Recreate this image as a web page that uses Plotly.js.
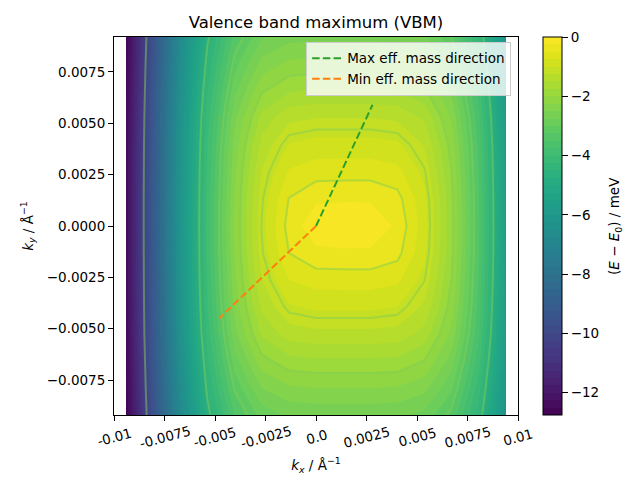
<!DOCTYPE html>
<html><head><meta charset="utf-8">
<script src="https://cdn.plot.ly/plotly-3.0.1.min.js"></script>
<style>body{margin:0;background:#fff;}</style>
</head><body><div id="chart" style="width:640px;height:480px;"></div>
<script>
// k-grid (1/Angstrom)
const kx = [-0.0094, -0.00806, -0.00671, -0.00537, -0.00403, -0.00269, -0.00134, 0, 0.00134, 0.00269, 0.00403, 0.00537, 0.00671, 0.00806, 0.0094];
const ky = [-0.0092, -0.007886, -0.006571, -0.005257, -0.003943, -0.002629, -0.001314, 0, 0.001314, 0.002629, 0.003943, 0.005257, 0.006571, 0.007886, 0.0092];
// E - E0 (meV), one row per ky value (bottom to top)
const energy = [
  [-12.74, -9.52, -6.73, -4.73, -3.49, -2.89, -2.71, -2.68, -2.68, -2.68, -2.70, -2.82, -3.29, -4.38, -6.19],
  [-12.65, -9.41, -6.57, -4.50, -3.17, -2.50, -2.29, -2.25, -2.25, -2.25, -2.27, -2.42, -2.95, -4.13, -6.02],
  [-12.58, -9.32, -6.43, -4.30, -2.87, -2.10, -1.84, -1.80, -1.80, -1.80, -1.82, -2.01, -2.62, -3.90, -5.86],
  [-12.52, -9.23, -6.31, -4.12, -2.59, -1.71, -1.38, -1.32, -1.32, -1.32, -1.35, -1.59, -2.32, -3.70, -5.73],
  [-12.49, -9.19, -6.24, -4.01, -2.42, -1.45, -1.03, -0.95, -0.95, -0.95, -1.00, -1.30, -2.13, -3.59, -5.66],
  [-12.47, -9.16, -6.20, -3.95, -2.32, -1.26, -0.75, -0.64, -0.63, -0.63, -0.70, -1.09, -2.01, -3.52, -5.62],
  [-12.45, -9.15, -6.18, -3.91, -2.25, -1.13, -0.50, -0.31, -0.30, -0.30, -0.42, -0.94, -1.93, -3.47, -5.59],
  [-12.45, -9.14, -6.17, -3.90, -2.23, -1.09, -0.40, -0.08,  0.00, -0.04, -0.30, -0.89, -1.91, -3.46, -5.58],
  [-12.45, -9.14, -6.18, -3.91, -2.25, -1.13, -0.49, -0.29, -0.28, -0.28, -0.41, -0.93, -1.93, -3.47, -5.59],
  [-12.46, -9.16, -6.20, -3.95, -2.31, -1.24, -0.72, -0.61, -0.60, -0.60, -0.67, -1.07, -2.00, -3.51, -5.61],
  [-12.48, -9.18, -6.24, -4.00, -2.40, -1.41, -0.98, -0.90, -0.90, -0.90, -0.95, -1.27, -2.11, -3.57, -5.65],
  [-12.51, -9.23, -6.30, -4.10, -2.56, -1.66, -1.31, -1.25, -1.25, -1.25, -1.29, -1.53, -2.28, -3.68, -5.72],
  [-12.57, -9.30, -6.41, -4.26, -2.82, -2.04, -1.77, -1.72, -1.72, -1.72, -1.75, -1.94, -2.57, -3.86, -5.84],
  [-12.63, -9.39, -6.53, -4.45, -3.10, -2.41, -2.19, -2.15, -2.15, -2.15, -2.17, -2.33, -2.88, -4.07, -5.98],
  [-12.71, -9.49, -6.68, -4.67, -3.40, -2.78, -2.59, -2.56, -2.56, -2.56, -2.58, -2.71, -3.19, -4.30, -6.14]
];
const lineLevels = [-0.5, -1.1, -2.0, -3.2, -4.6, -10.3];
const maxDirX = [0, 0.0028];
const maxDirY = [0, 0.0059];
const minDirX = [0, -0.0048];
const minDirY = [0, -0.0045];
const xTickVals = [-0.01, -0.0075, -0.005, -0.0025, 0, 0.0025, 0.005, 0.0075, 0.01];
const xTickText = ['-0.01', '-0.0075', '-0.005', '-0.0025', '0.0', '0.0025', '0.005', '0.0075', '0.01'];
const yTickVals = [-0.0075, -0.005, -0.0025, 0, 0.0025, 0.005, 0.0075];
const yTickText = ['\u22120.0075', '\u22120.0050', '\u22120.0025', '0.0000', '0.0025', '0.0050', '0.0075'];
const cbTickVals = [0, -2, -4, -6, -8, -10, -12];
const cbTickText = ['0', '\u22122', '\u22124', '\u22126', '\u22128', '\u221210', '\u221212'];

const FS = 13.5;
const traces = [];
traces.push({
  type: 'contour', x: kx, y: ky, z: energy,
  colorscale: 'Viridis', zmin: -12.75, zmax: 0,
  autocontour: false,
  contours: {start: -12.75, end: 0, size: 0.25, coloring: 'fill', showlines: false},
  line: {width: 0, smoothing: 0},
  hoverinfo: 'skip', showlegend: false,
  colorbar: {
    x: 1.0619, xref: 'paper', xanchor: 'left', xpad: 0,
    y: 0.5, yanchor: 'middle', ypad: 0, len: 1, lenmode: 'fraction',
    thickness: 19, outlinewidth: 1, outlinecolor: 'black',
    ticks: 'outside', ticklen: 6, tickwidth: 1, tickcolor: 'black',
    tickvals: cbTickVals, ticktext: cbTickText, tickfont: {size: FS}
  }
});
lineLevels.forEach(L => {
  traces.push({
    type: 'contour', x: kx, y: ky, z: energy, showscale: false,
    autocontour: false,
    contours: {start: L, end: L, size: 1, coloring: 'none', showlines: true},
    line: {color: 'rgba(125,205,85,0.5)', width: 2, smoothing: 0},
    hoverinfo: 'skip', showlegend: false
  });
});
traces.push({
  type: 'scatter', mode: 'lines', x: maxDirX, y: maxDirY,
  name: 'Max eff. mass direction',
  line: {color: '#2ca02c', width: 2, dash: '7.5px,3.2px'}
});
traces.push({
  type: 'scatter', mode: 'lines', x: minDirX, y: minDirY,
  name: 'Min eff. mass direction',
  line: {color: '#ff7f0e', width: 2, dash: '7.5px,3.2px'}
});

const axisCommon = {
  showgrid: false, zeroline: false, showline: true, linecolor: 'black', linewidth: 1,
  mirror: true, ticks: 'outside', ticklen: 5, tickwidth: 1, tickcolor: 'black',
  tickfont: {size: FS}
};
const annotations = xTickVals.map((v, i) => ({
  x: v, xref: 'x', y: -0.058, yref: 'paper', text: xTickText[i], showarrow: false,
  textangle: -15, xanchor: 'center', yanchor: 'middle', font: {size: FS}
}));
annotations.push({
  x: 1.24, xref: 'paper', y: 0.5, yref: 'paper', showarrow: false, textangle: -90,
  xanchor: 'center', yanchor: 'middle',
  text: '(<i>E</i> \u2212 <i>E</i><sub>0</sub>) / meV', font: {size: FS}
});

const layout = {
  width: 640, height: 480,
  margin: {l: 114, r: 122, t: 37, b: 65, autoexpand: false},
  paper_bgcolor: 'white', plot_bgcolor: 'white',
  font: {family: 'DejaVu Sans', size: FS, color: 'black'},
  title: {text: 'Valence band maximum (VBM)', x: 0.4937, xref: 'container', y: 0.954, yref: 'container', yanchor: 'middle', font: {size: 16.5}},
  xaxis: Object.assign({}, axisCommon, {
    range: [-0.01, 0.01], tickvals: xTickVals, showticklabels: false,
    title: {text: '<i>k</i><sub><i>x</i></sub> / \u00c5<sup>\u22121</sup>', standoff: 40, font: {size: FS}}
  }),
  yaxis: Object.assign({}, axisCommon, {
    range: [-0.0092, 0.0092], tickvals: yTickVals, ticktext: yTickText,
    title: {text: '<i>k</i><sub><i>y</i></sub> / \u00c5<sup>\u22121</sup>', standoff: 10, font: {size: FS}}
  }),
  legend: {x: 0.983, xanchor: 'right', y: 0.987, yanchor: 'top',
    bgcolor: 'rgba(255,255,255,0.8)', bordercolor: '#cccccc', borderwidth: 1, font: {size: FS}},
  annotations: annotations
};
Plotly.newPlot('chart', traces, layout, {displayModeBar: false, staticPlot: true});
</script>
</body></html>
